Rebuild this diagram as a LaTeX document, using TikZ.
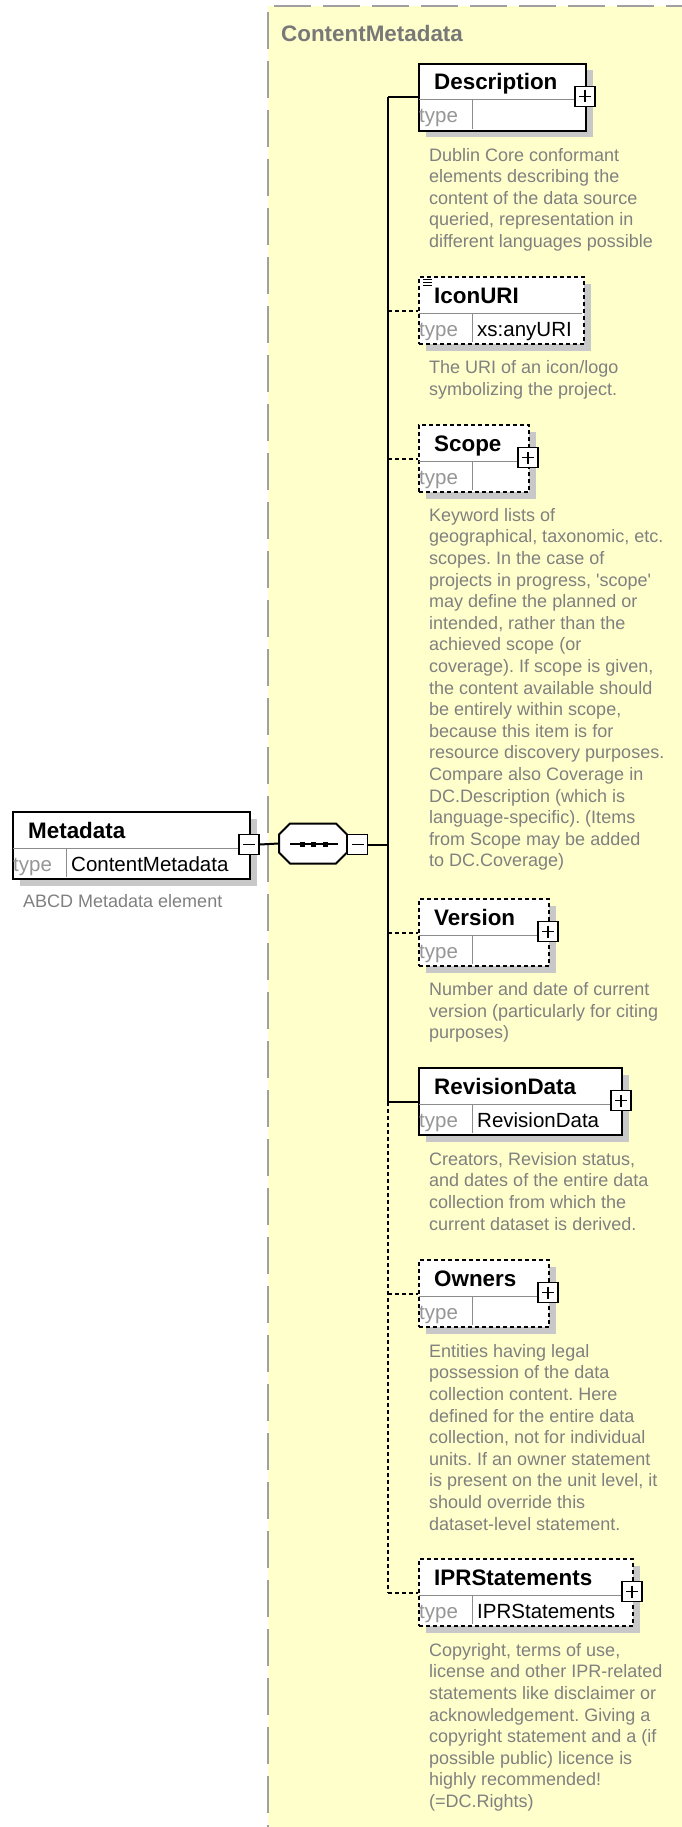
\documentclass[tikz,border=0pt]{standalone}
\usepackage{fontspec}
\setmainfont{Liberation Sans}
\usetikzlibrary{calc}
\frenchspacing

\definecolor{panelyellow}{RGB}{255,255,204}
\definecolor{panelborder}{RGB}{160,160,160}
\definecolor{shadowgray}{RGB}{200,200,200}
\definecolor{notegray}{RGB}{128,128,128}
\definecolor{labelgray}{RGB}{150,150,150}
\definecolor{divgray}{RGB}{140,140,140}
\definecolor{paneltitle}{RGB}{120,120,120}

\tikzset{
  elembox/.style={draw=black, line width=2pt, fill=white, inner sep=0pt, minimum height=67pt},
  optbox/.style={dash pattern=on 4pt off 3pt},
  reqbox/.style={},
  boxshadow/.style={fill=shadowgray},
  divline/.style={draw=divgray, line width=1pt},
  titletext/.style={anchor=base west, inner sep=0pt, font=\bfseries\fontsize{22.4}{26}\selectfont},
  typelabel/.style={anchor=base west, inner sep=0pt, text=labelgray, font=\fontsize{20.5}{24}\selectfont},
  typetext/.style={anchor=base west, inner sep=0pt, font=\fontsize{20.5}{24}\selectfont},
  note/.style={anchor=north west, inner sep=0pt, align=left, text=notegray, font=\fontsize{18}{21.6}\selectfont\frenchspacing},
  signbox/.style={draw=black, line width=1.5pt, fill=white, minimum size=20pt, inner sep=0pt},
  signline/.style={line width=1.5pt},
  conn/.style={line width=2pt},
  optconn/.style={line width=2pt, dash pattern=on 4pt off 3pt},
  panelline/.style={draw=panelborder, line width=2pt, dash pattern=on 37pt off 12pt, dash phase=43pt},
}

% element box: name, left, top, width, title, type value, border style
\newcommand\xsdbox[7]{%
  \fill[boxshadow] (#2+7.5,#3+7.5) rectangle (#2+#4+7.5,#3+74.5);
  \node[elembox,#7,minimum width=#4pt,anchor=north west] (#1) at (#2,#3) {};
  \draw[divline] (#2+1,#3+37) -- (#2+#4-1,#3+37);
  \draw[divline] (#2+54,#3+37) -- (#2+54,#3+66);
  \node[titletext] (#1-title) at (#2+16,#3+27) {#5};
  \node[typelabel] (#1-tl) at (#2+1,#3+60) {type};
  \node[typetext] (#1-tv) at (#2+59,#3+60) {#6};
}
% expand button: name, x, y
\newcommand\xsdplus[3]{%
  \node[signbox] (#1) at (#2,#3) {};
  \draw[signline] (#2-6,#3) -- (#2+6,#3) (#2,#3-6) -- (#2,#3+6);
}
% collapse button: name, x, y
\newcommand\xsdminus[3]{%
  \node[signbox] (#1) at (#2,#3) {};
  \draw[signline] (#2-6,#3) -- (#2+6,#3);
}

\begin{document}
\begin{tikzpicture}[x=1pt,y=-1pt]
\useasboundingbox (0,0) rectangle (682,1827);
\fill[white] (0,0) rectangle (682,1827);

% complex type panel
\fill[panelyellow] (268,6) rectangle (682,1827);
\draw[panelline] (268,6) -- (682,6);
\draw[panelline] (268,6) -- (268,1827);
\node[anchor=base west, inner sep=0pt, text=paneltitle, font=\bfseries\fontsize{22.4}{26}\selectfont] (paneltitle) at (281,42) {ContentMetadata};

% root element
\xsdbox{meta}{12}{811}{237}{Metadata}{ContentMetadata}{reqbox}
\node[note, anchor=base west] (meta-note) at (23,907) {ABCD Metadata element};
\xsdminus{metaminus}{249}{844.5}

% sequence compositor
\node[minimum width=68pt, minimum height=40pt, inner sep=0pt] (seq) at (313,843.5) {};
\draw[fill=white, line width=2pt] (290,823.5) -- (336,823.5) -- (347,834.5) -- (347,852.5)
  -- (336,863.5) -- (290,863.5) -- (279,852.5) -- (279,834.5) -- cycle;
\draw[line width=1.5pt] (290,844) -- (338,844);
\foreach \dx in {302,313,325} \fill (\dx-2.5,841.5) rectangle (\dx+2.5,846.5);
\xsdminus{seqminus}{357.5}{844.5}

\draw[conn] (metaminus.east) -- (seq.west);

% child elements
\xsdbox{desc}{418}{63}{167}{Description}{}{reqbox}
\xsdplus{descplus}{585}{96.5}
\node[note] (desc-note) at (429,146) {\rule{0pt}{15pt}Dublin Core conformant\\elements describing the\\content of the data source\\queried, representation in\\different languages possible};

\xsdbox{icon}{418}{276}{165}{IconURI}{xs:anyURI}{optbox}
\draw[line width=1pt] (423,279.5) -- (432,279.5) (423,282.5) -- (432,282.5) (423,285.5) -- (432,285.5);
\node[note] (icon-note) at (429,358.5) {\rule{0pt}{15pt}The URI of an icon/logo\\symbolizing the project.};

\xsdbox{scope}{418}{424}{110}{Scope}{}{optbox}
\xsdplus{scopeplus}{528}{457.5}
\node[note] (scope-note) at (429,506) {\rule{0pt}{15pt}Keyword lists of\\geographical, taxonomic, etc.\\scopes. In the case of\\projects in progress, \textquotesingle scope\textquotesingle\\may define the planned or\\intended, rather than the\\achieved scope (or\\coverage). If scope is given,\\the content available should\\be entirely within scope,\\because this item is for\\resource discovery purposes.\\Compare also Coverage in\\DC.Description (which is\\language-specific). (Items\\from Scope may be added\\to DC.Coverage)};

\xsdbox{version}{418}{898}{130}{Version}{}{optbox}
\xsdplus{versionplus}{548}{931.5}
\node[note] (version-note) at (429,980.5) {\rule{0pt}{15pt}Number and date of current\\version (particularly for citing\\purposes)};

\xsdbox{rev}{418}{1067}{203}{RevisionData}{RevisionData}{reqbox}
\xsdplus{revplus}{621}{1100.5}
\node[note] (rev-note) at (429,1150) {\rule{0pt}{15pt}Creators, Revision status,\\and dates of the entire data\\collection from which the\\current dataset is derived.};

\xsdbox{owners}{418}{1259}{130}{Owners}{}{optbox}
\xsdplus{ownersplus}{548}{1292.5}
\node[note] (owners-note) at (429,1342) {\rule{0pt}{15pt}Entities having legal\\possession of the data\\collection content. Here\\defined for the entire data\\collection, not for individual\\units. If an owner statement\\is present on the unit level, it\\should override this\\dataset-level statement.};

\xsdbox{ipr}{418}{1558}{214}{IPRStatements}{IPRStatements}{optbox}
\xsdplus{iprplus}{632}{1591.5}
\node[note] (ipr-note) at (429,1641) {\rule{0pt}{15pt}Copyright, terms of use,\\license and other IPR-related\\statements like disclaimer or\\acknowledgement. Giving a\\copyright statement and a (if\\possible public) licence is\\highly recommended!\\(=DC.Rights)};

% spine of the sequence
\coordinate (sx) at (388,0);
\coordinate (s-desc) at (desc.west -| sx);
\coordinate (s-icon) at (icon.west -| sx);
\coordinate (s-scope) at (scope.west -| sx);
\coordinate (s-seq) at (seqminus.east -| sx);
\coordinate (s-version) at (version.west -| sx);
\coordinate (s-rev) at (rev.west -| sx);
\coordinate (s-owners) at (owners.west -| sx);
\coordinate (s-ipr) at (ipr.west -| sx);

\draw[conn] (s-desc) -- (s-rev);
\draw[optconn] (s-rev) -- (s-ipr);
\draw[conn] (seqminus.east) -- (s-seq);
\draw[conn] (s-desc) -- (desc.west);
\draw[optconn] (s-icon) -- (icon.west);
\draw[optconn] (s-scope) -- (scope.west);
\draw[optconn] (s-version) -- (version.west);
\draw[conn] (s-rev) -- (rev.west);
\draw[optconn] (s-owners) -- (owners.west);
\draw[optconn] (s-ipr) -- (ipr.west);
\end{tikzpicture}
\end{document}
